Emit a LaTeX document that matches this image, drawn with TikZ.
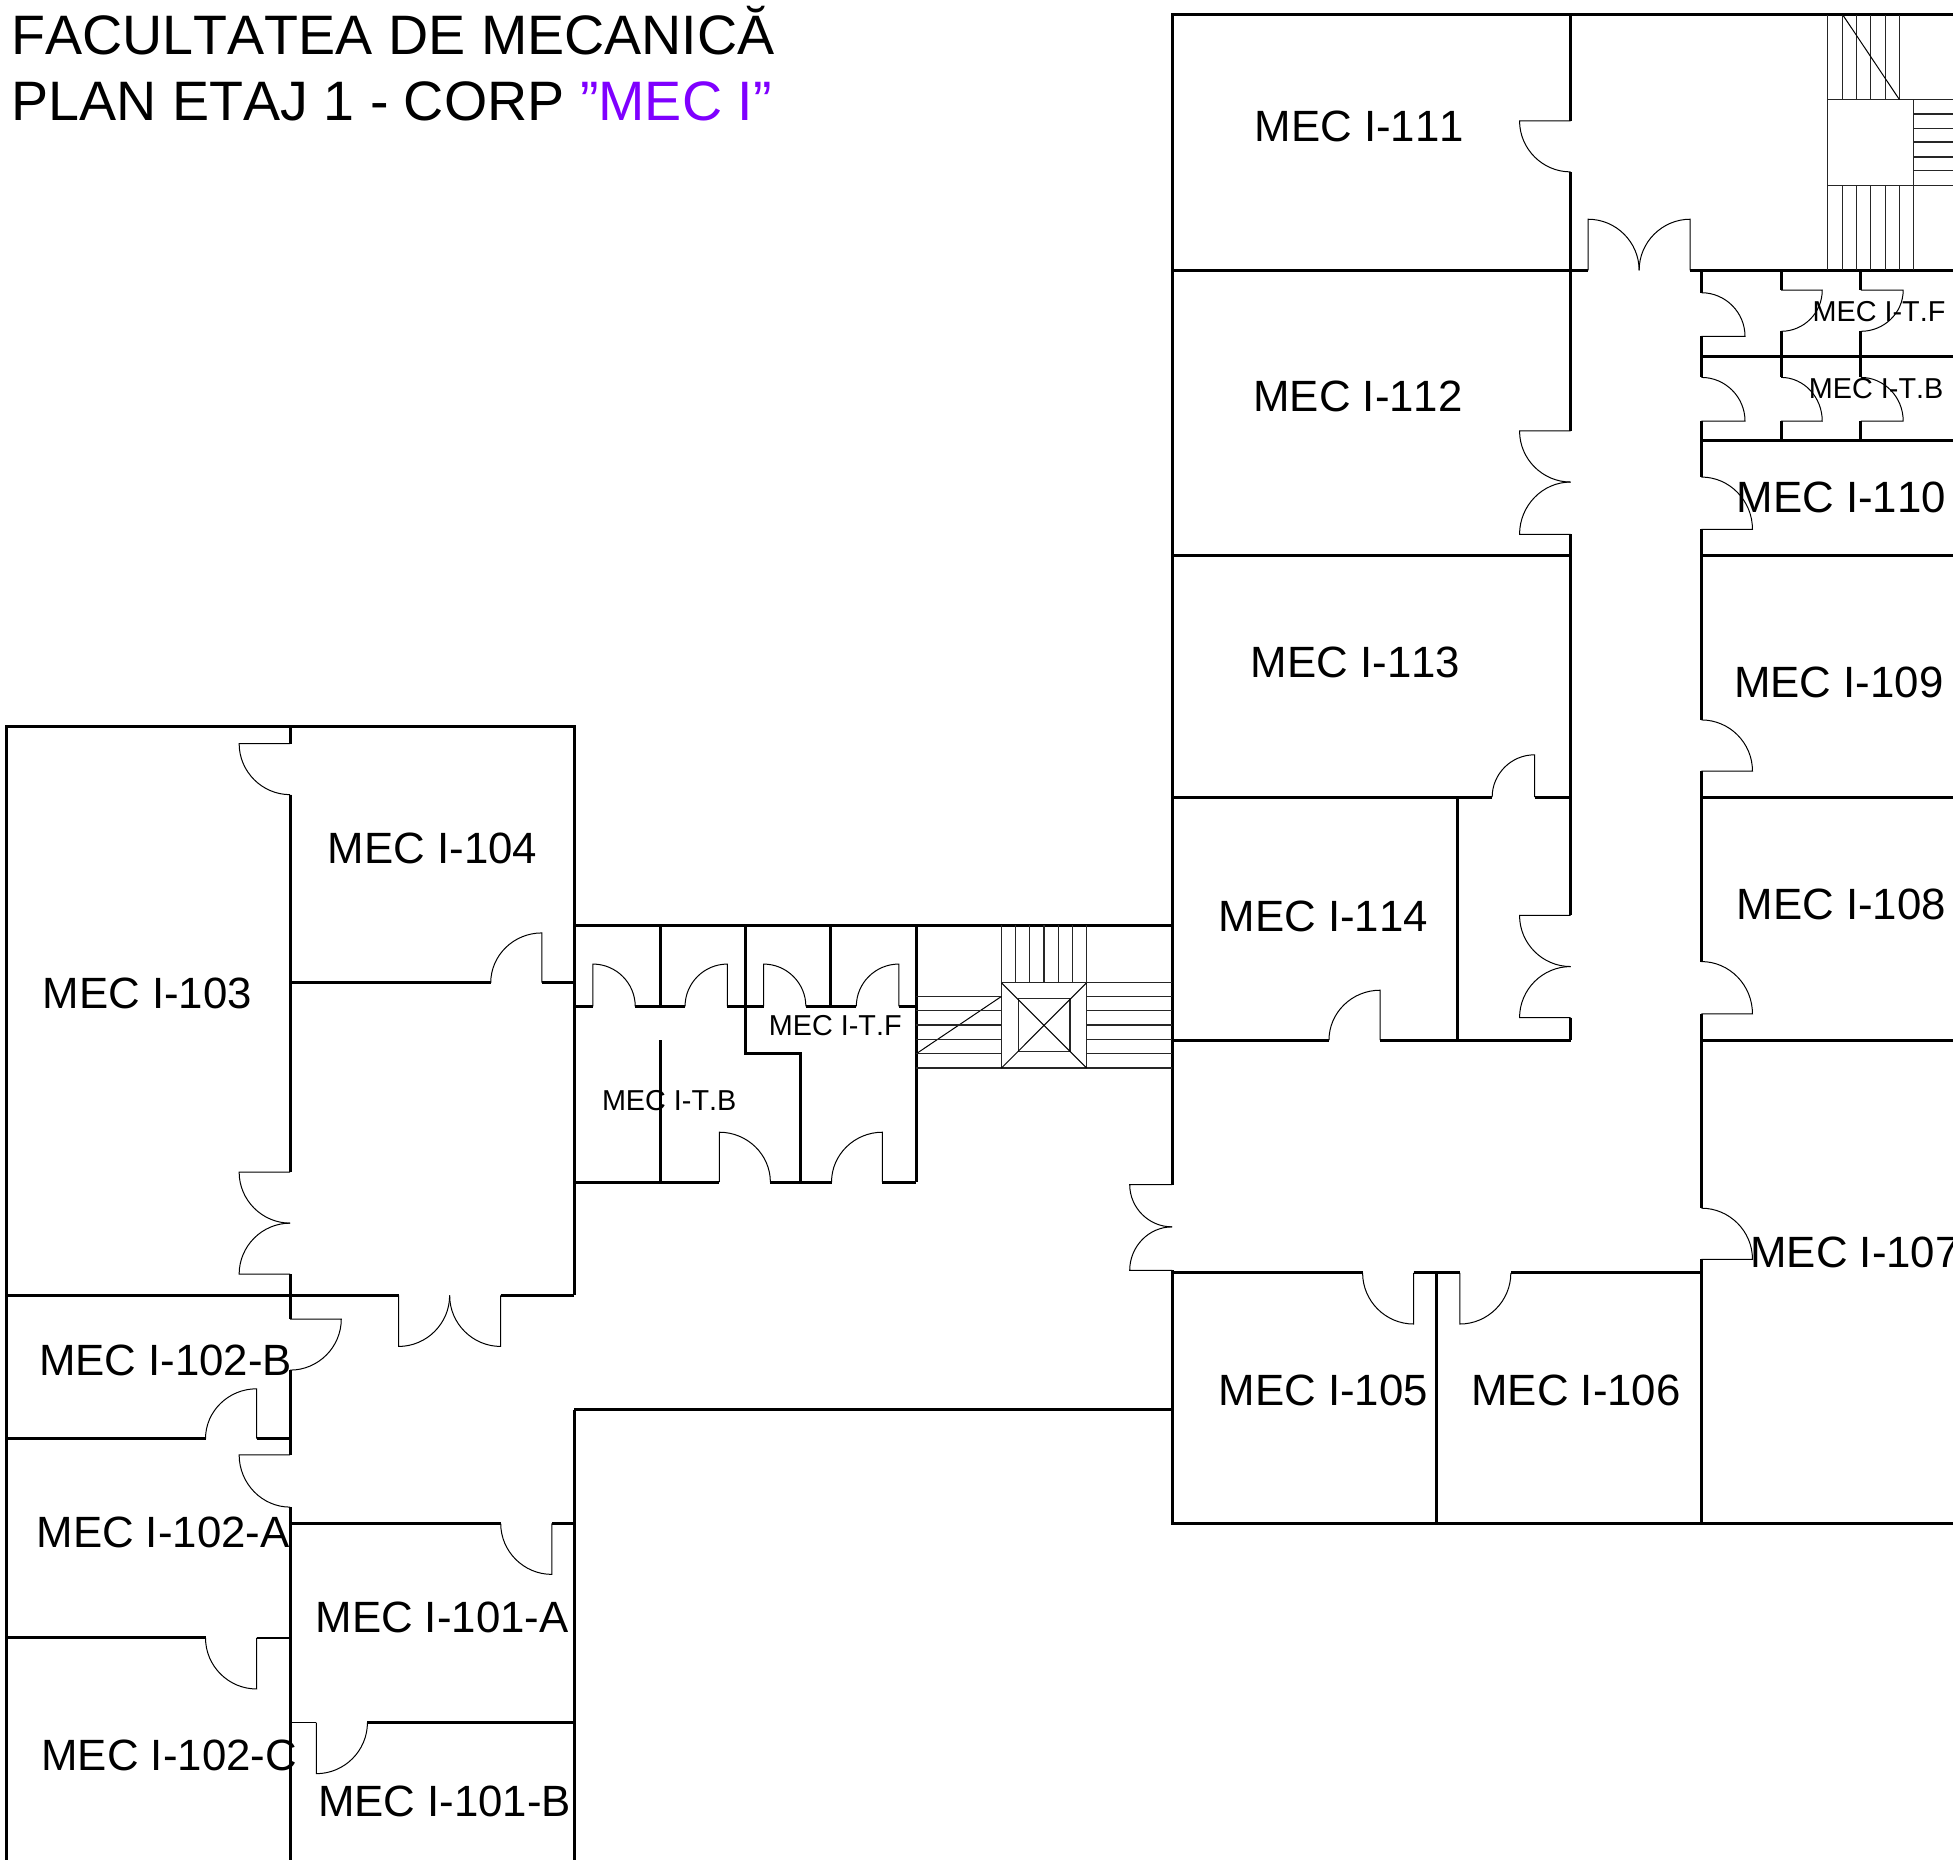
\documentclass[tikz,border=0pt]{standalone}
\usepackage{fontspec}
\setmainfont[Kerning=Off]{Liberation Sans}
\usetikzlibrary{calc}
\definecolor{titleviolet}{RGB}{127,0,255}
\tikzset{
  wall/.style={line width=1.5pt},
  thinwall/.style={line width=0.6pt},
  doorline/.style={line width=0.5pt},
  stairline/.style={line width=0.6pt,black!85},
  roomlabel/.style={anchor=west,inner sep=0pt,yshift=-0.3pt,font=\fontsize{21.9}{24}\selectfont},
  wclabel/.style={anchor=west,inner sep=0pt,font=\fontsize{14.4}{16}\selectfont},
  titlelabel/.style={anchor=base west,inner sep=0pt,font=\fontsize{27.8}{32}\selectfont}
}
% hinge, leaf tip, closing point
\newcommand{\door}[6]{\draw[doorline] (#1,#2) -- (#3,#4) .. controls ($(#3,#4)+0.55*({#5-#1},{#6-#2})$) and ($(#5,#6)+0.55*({#3-#1},{#4-#2})$) .. (#5,#6);}
\begin{document}
\begin{tikzpicture}[x=0.62277pt,y=-0.62277pt]
\useasboundingbox (0,0) rectangle (1568,1493);
% title
\node[titlelabel] (title1) at (9,44) {FACULTATEA DE MECANICĂ};
\node[titlelabel] (title2) at (9,97) {PLAN ETAJ 1 - CORP \textcolor{titleviolet}{”MEC I”}};
%
% right block
\draw[wall] (941,951) -- (941,12) -- (1568,12);
\draw[wall] (941,1020) -- (941,1223) -- (1568,1223);
\draw[wall] (941,217) -- (1275,217);
\draw[wall] (1357,217) -- (1568,217);
\draw[wall] (1261,12) -- (1261,97);
\draw[wall] (1261,138) -- (1261,346);
\draw[wall] (1261,429) -- (1261,735);
\draw[wall] (1261,817) -- (1261,835);
\draw[wall] (941,446) -- (1261,446);
\draw[wall] (941,640) -- (1198,640);
\draw[wall] (1232,640) -- (1261,640);
\draw[wall] (1170,640) -- (1170,835);
\draw[wall] (941,835) -- (1067,835);
\draw[wall] (1108,835) -- (1261,835);
\draw[wall] (941,1022) -- (1094,1022);
\draw[wall] (1135,1022) -- (1172,1022);
\draw[wall] (1213,1022) -- (1366,1022);
\draw[wall] (1153,1022) -- (1153,1223);
%
\draw[wall] (1366,217) -- (1366,235);
\draw[wall] (1366,270) -- (1366,303);
\draw[wall] (1366,338) -- (1366,383);
\draw[wall] (1366,425) -- (1366,578);
\draw[wall] (1366,619) -- (1366,772);
\draw[wall] (1366,814) -- (1366,970);
\draw[wall] (1366,1011) -- (1366,1223);
\foreach \y in {286,354,446,640,835}
  \draw[wall] (1366,\y) -- (1568,\y);
\foreach \x in {1430,1494} {
  \draw[wall] (\x,217) -- (\x,233);
  \draw[wall] (\x,266) -- (\x,303);
  \draw[wall] (\x,338) -- (\x,354);
}
%
\door{1261}{97}{1220}{97}{1261}{138}
\door{1261}{346}{1220}{346}{1261}{387}
\door{1261}{429}{1220}{429}{1261}{387}
\door{1261}{735}{1220}{735}{1261}{776}
\door{1261}{817}{1220}{817}{1261}{776}
\door{1232}{640}{1232}{606}{1198}{640}
\door{1108}{835}{1108}{795}{1067}{835}
\door{1275}{217}{1275}{176}{1316}{217}
\door{1357}{217}{1357}{176}{1316}{217}
\door{941}{951}{907}{951}{941}{985}
\door{941}{1020}{907}{1020}{941}{985}
\door{1135}{1022}{1135}{1063}{1094}{1022}
\door{1172}{1022}{1172}{1063}{1213}{1022}
\door{1366}{270}{1401}{270}{1366}{235}
\door{1366}{338}{1401}{338}{1366}{303}
\door{1366}{425}{1407}{425}{1366}{383}
\door{1366}{619}{1407}{619}{1366}{578}
\door{1366}{814}{1407}{814}{1366}{772}
\door{1366}{1011}{1407}{1011}{1366}{970}
\door{1430}{233}{1463}{233}{1430}{266}
\door{1430}{338}{1463}{338}{1430}{303}
\door{1494}{233}{1528}{233}{1494}{266}
\door{1494}{338}{1528}{338}{1494}{303}
%
% stairs, top right
\draw[stairline] (1467.5,80) rectangle (1536.4,149);
\foreach \x in {1467.5,1479,1490.5,1502,1513.5,1525}
  \draw[stairline] (\x,12) -- (\x,80);
\foreach \x in {1467.5,1479,1490.5,1502,1513.5,1525,1536.4}
  \draw[stairline] (\x,149) -- (\x,217);
\foreach \y in {80,91.5,103,114,126,137,149}
  \draw[stairline] (1536.4,\y) -- (1568,\y);
\draw[doorline] (1479.5,12) -- (1525,80);
%
% connecting wing
\draw[wall] (461,743) -- (941,743);
\draw[wall] (461,1132) -- (941,1132);
\draw[wall] (461,1132) -- (461,1493);
\draw[wall] (461,808) -- (476,808);
\draw[wall] (510,808) -- (550,808);
\draw[wall] (584,808) -- (613,808);
\draw[wall] (647,808) -- (687.5,808);
\draw[wall] (721.6,808) -- (735.6,808);
\draw[wall] (530,743) -- (530,808);
\draw[wall] (667,743) -- (667,808);
\draw[wall] (598.7,743) -- (598.7,846) -- (643,846) -- (643,949);
\draw[wall] (735.6,743) -- (735.6,949);
\draw[wall] (530,835) -- (530,949);
\draw[wall] (461,949) -- (577.5,949);
\draw[wall] (618.5,949) -- (667.6,949);
\draw[wall] (708.5,949) -- (735.6,949);
%
\door{476}{808}{476}{774}{510}{808}
\door{584}{808}{584}{774}{550}{808}
\door{613}{808}{613}{774}{647}{808}
\door{721.6}{808}{721.6}{774}{687.5}{808}
\door{577.5}{949}{577.5}{909}{618.5}{949}
\door{708.5}{949}{708.5}{909}{667.6}{949}
%
% stairs, wing
\draw[stairline] (804,789) rectangle (872.4,857.5);
\draw[stairline] (817.6,801.5) rectangle (859,844);
\draw[doorline] (804,789) -- (872.4,857.5);
\draw[doorline] (872.4,789) -- (804,857.5);
\draw[doorline] (735.6,846) -- (804,800);
\foreach \x in {815.4,826.8,838.2,849.6,861,804,872.4}
  \draw[stairline] (\x,743) -- (\x,789);
\foreach \y in {800,811.5,823,834.4,846,857.5} {
  \draw[stairline] (735.6,\y) -- (804,\y);
  \draw[stairline] (872.4,\y) -- (941,\y);
}
\draw[stairline] (872.4,789) -- (941,789);
%
% left block
\draw[wall] (5,1493) -- (5,583) -- (461,583) -- (461,1040);
\draw[wall] (233,583) -- (233,597);
\draw[wall] (233,638) -- (233,941);
\draw[wall] (233,1023) -- (233,1059);
\draw[wall] (233,1100) -- (233,1168);
\draw[wall] (233,1210) -- (233,1493);
\draw[wall] (233,789) -- (394,789);
\draw[wall] (435,789) -- (461,789);
\draw[wall] (5,1040) -- (320,1040);
\draw[wall] (402,1040) -- (461,1040);
\draw[wall] (5,1155) -- (165,1155);
\draw[wall] (206,1155) -- (233,1155);
\draw[wall] (5,1315) -- (165,1315);
\draw[thinwall] (206,1315) -- (233,1315);
\draw[wall] (233,1223) -- (402,1223);
\draw[wall] (443,1223) -- (461,1223);
\draw[thinwall] (233,1383) -- (254,1383);
\draw[wall] (295,1383) -- (461,1383);
%
\door{233}{597}{192}{597}{233}{638}
\door{233}{941}{192}{941}{233}{982}
\door{233}{1023}{192}{1023}{233}{982}
\door{233}{1059}{274}{1059}{233}{1100}
\door{233}{1168}{192}{1168}{233}{1210}
\door{435}{789}{435}{749}{394}{789}
\door{320}{1040}{320}{1081}{361}{1040}
\door{402}{1040}{402}{1081}{361}{1040}
\door{206}{1155}{206}{1115}{165}{1155}
\door{206}{1315}{206}{1356}{165}{1315}
\door{443}{1223}{443}{1264}{402}{1223}
\door{254}{1383}{254}{1424}{295}{1383}
%
% labels
\node[roomlabel] (room111) at (1007,101) {MEC I-111};
\node[roomlabel] (room112) at (1006,318) {MEC I-112};
\node[roomlabel] (room113) at (1004,531) {MEC I-113};
\node[roomlabel] (room114) at (978,735) {MEC I-114};
\node[roomlabel] (room110) at (1394,399) {MEC I-110};
\node[roomlabel] (room109) at (1392,547) {MEC I-109};
\node[roomlabel] (room108) at (1394,726) {MEC I-108};
\node[roomlabel] (room107) at (1405,1005) {MEC I-107};
\node[roomlabel] (room105) at (978,1116) {MEC I-105};
\node[roomlabel] (room106) at (1181,1116) {MEC I-106};
\node[roomlabel] (room104) at (263,681) {MEC I-104};
\node[roomlabel] (room103) at (34,797) {MEC I-103};
\node[roomlabel] (room102b) at (31,1092) {MEC I-102-B};
\node[roomlabel] (room102a) at (29,1230) {MEC I-102-A};
\node[roomlabel] (room102c) at (33,1409) {MEC I-102-C};
\node[roomlabel] (room101a) at (253,1298) {MEC I-101-A};
\node[roomlabel] (room101b) at (255,1446) {MEC I-101-B};
\node[wclabel] (wcf1) at (1455,250) {MEC I-T.F};
\node[wclabel] (wcb1) at (1452,312) {MEC I-T.B};
\node[wclabel] (wcf2) at (617,823) {MEC I-T.F};
\node[wclabel] (wcb2) at (483,884) {MEC I-T.B};
%
\end{tikzpicture}
\end{document}
